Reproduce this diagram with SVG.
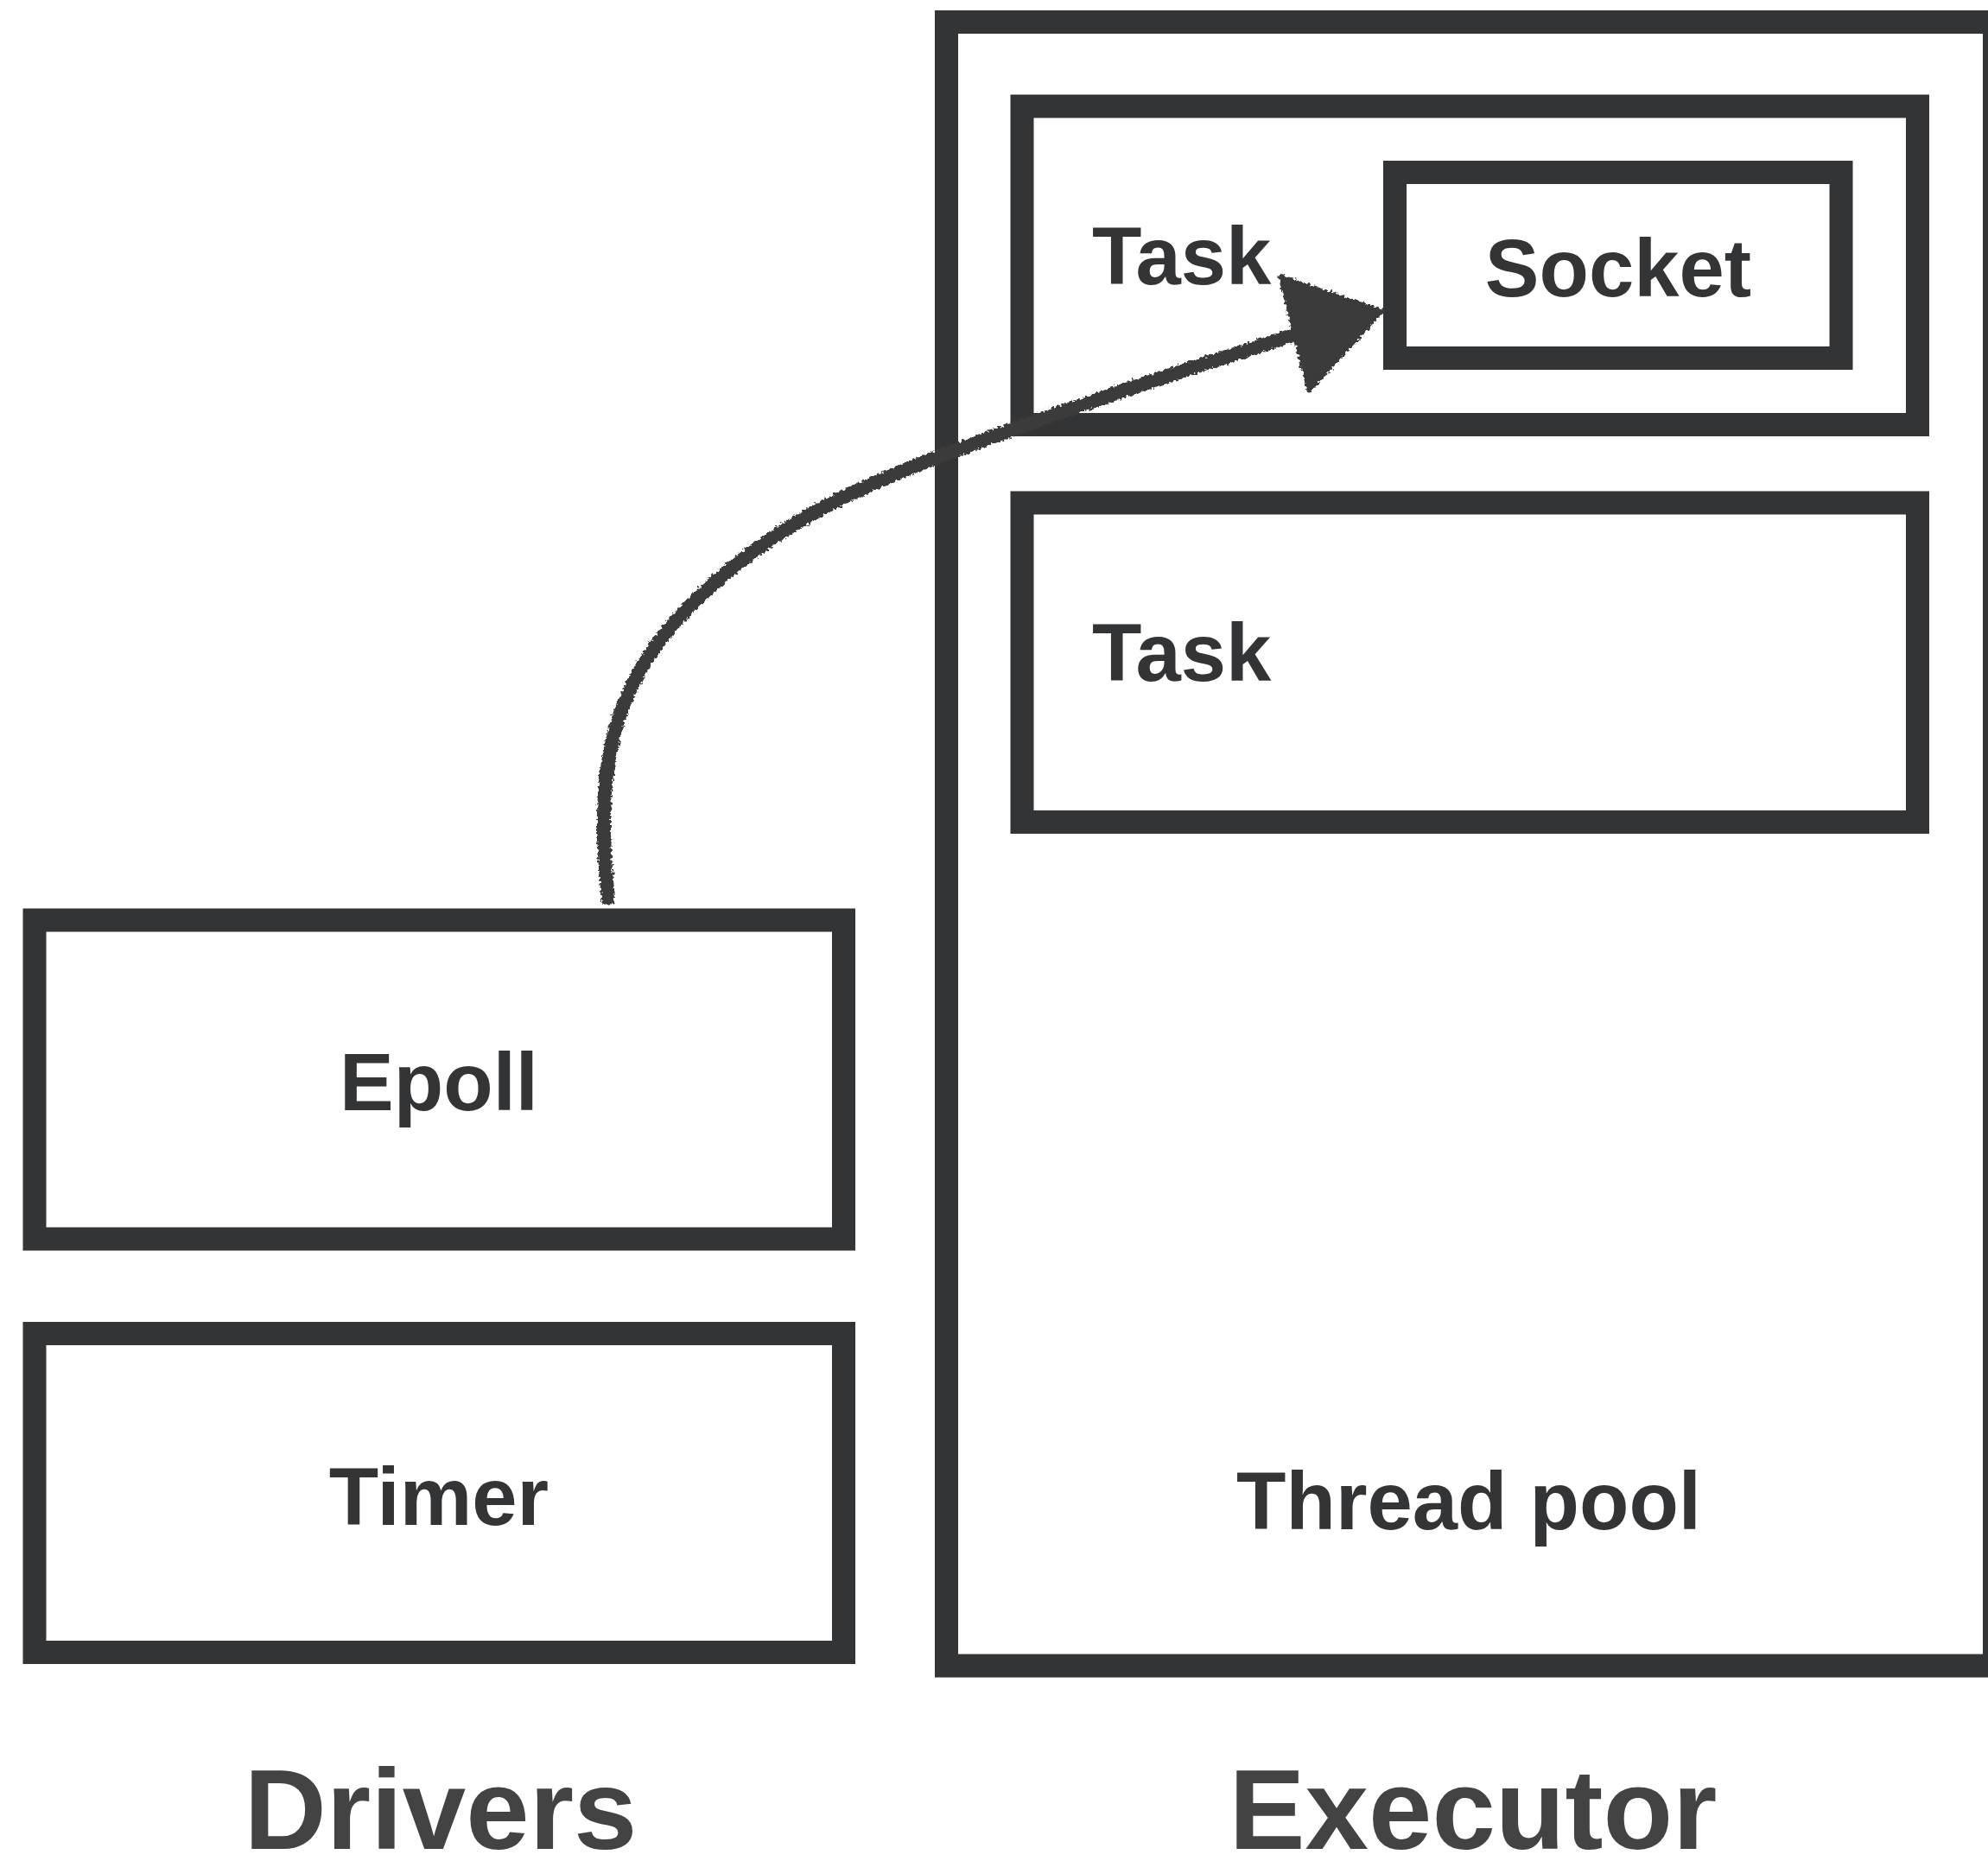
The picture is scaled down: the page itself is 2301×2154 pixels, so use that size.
<svg xmlns="http://www.w3.org/2000/svg" width="2301" height="2154" viewBox="0 0 2301 2154">
  <style>
    .box { fill: none; stroke: #333436; stroke-width: 27; }
    .lbl { font-family: "Liberation Sans", Arial, sans-serif; font-weight: bold; font-size: 94px; fill: #333436; }
    .title { font-family: "Liberation Sans", Arial, sans-serif; font-weight: bold; font-size: 132px; fill: #434343; text-anchor: middle; }
    .mid { text-anchor: middle; }
  </style>
  <defs>
    <filter id="rough" x="-5%" y="-5%" width="110%" height="110%">
      <feTurbulence type="fractalNoise" baseFrequency="0.3" numOctaves="2" seed="3" result="n"/>
      <feDisplacementMap in="SourceGraphic" in2="n" scale="7" xChannelSelector="R" yChannelSelector="G"/>
    </filter>
  </defs>
  <rect width="2301" height="2154" fill="#ffffff"/>

  <g id="executor">
    <rect class="box" x="1095.5" y="25.5" width="1213" height="1902.5"/>
    <text class="lbl mid" x="1700" y="1770">Thread pool</text>
  </g>
  <g id="task1">
    <rect class="box" x="1183" y="123" width="1036.5" height="368.5"/>
    <text class="lbl" x="1264" y="329">Task</text>
  </g>
  <g id="socket">
    <rect class="box" x="1614.5" y="199.5" width="516.5" height="215"/>
    <text class="lbl mid" x="1873" y="343">Socket</text>
  </g>
  <g id="task2">
    <rect class="box" x="1183" y="582" width="1036.5" height="369.5"/>
    <text class="lbl" x="1264" y="788">Task</text>
  </g>
  <g id="epoll">
    <rect class="box" x="40" y="1065" width="936.5" height="369"/>
    <text class="lbl mid" x="508" y="1285">Epoll</text>
  </g>
  <g id="timer">
    <rect class="box" x="40" y="1543.5" width="936.5" height="369"/>
    <text class="lbl mid" x="508" y="1765">Timer</text>
  </g>
  <g id="labels">
    <text class="title" x="510" y="2140">Drivers</text>
    <text class="title" x="1705" y="2140">Executor</text>
  </g>

  <g id="connectors" filter="url(#rough)">
    <path d="M 704 1040 C 690 900, 700 800, 800 700 S 1000 560, 1150 505 S 1400 420, 1505 385" fill="none" stroke="#3a3a3a" stroke-width="16" stroke-linecap="round" stroke-linejoin="round"/>
    <polygon points="1482,320 1599,360 1515,452" fill="#3a3a3a" stroke="#3a3a3a" stroke-width="5" stroke-linejoin="round"/>
  </g>
</svg>
